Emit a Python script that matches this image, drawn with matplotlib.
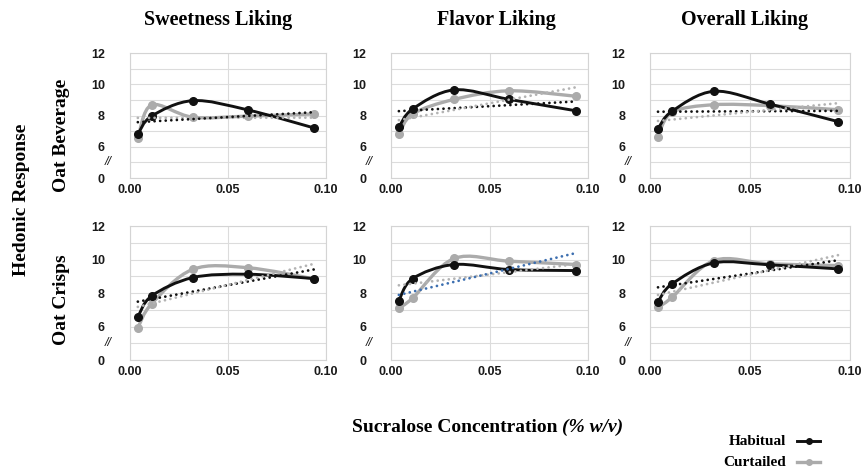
import numpy as np
import matplotlib
matplotlib.use("Agg")
import matplotlib.pyplot as plt
from matplotlib.path import Path
from matplotlib.patches import PathPatch
from matplotlib.lines import Line2D
import matplotlib.transforms as mtransforms

# Sucralose concentrations (% w/v)
conc = [0.004, 0.011, 0.032, 0.060, 0.094]

products = ["Oat Beverage", "Oat Crisps"]
attributes = ["Sweetness Liking", "Flavor Liking", "Overall Liking"]

# Mean hedonic ratings, habitual consumers
hab_bev_sweet = [6.80, 7.96, 8.95, 8.36, 7.20]
hab_bev_flavor = [7.25, 8.42, 9.64, 9.03, 8.30]
hab_bev_overall = [7.16, 8.27, 9.55, 8.73, 7.61]
hab_cri_sweet = [6.57, 7.82, 8.92, 9.12, 8.86]
hab_cri_flavor = [7.54, 8.86, 9.70, 9.40, 9.34]
hab_cri_overall = [7.48, 8.54, 9.80, 9.68, 9.44]

# Mean hedonic ratings, curtailed consumers
cur_bev_sweet = [6.53, 8.67, 7.89, 7.96, 8.10]
cur_bev_flavor = [6.81, 8.10, 9.03, 9.58, 9.23]
cur_bev_overall = [6.65, 8.20, 8.69, 8.63, 8.37]
cur_cri_sweet = [5.92, 7.35, 9.41, 9.51, 8.84]
cur_cri_flavor = [7.10, 7.70, 10.06, 9.90, 9.70]
cur_cri_overall = [7.14, 7.74, 9.94, 9.74, 9.64]

habitual = [[hab_bev_sweet, hab_bev_flavor, hab_bev_overall],
            [hab_cri_sweet, hab_cri_flavor, hab_cri_overall]]
curtailed = [[cur_bev_sweet, cur_bev_flavor, cur_bev_overall],
             [cur_cri_sweet, cur_cri_flavor, cur_cri_overall]]

BLACK = "#111111"
GREY = "#ababab"
GREY_DOT = "#b3b3b3"
BLUE_DOT = "#3d6fb0"

# colours of the linear trendlines (habitual, curtailed) per panel
trend_hab_colors = [[GREY_DOT, BLACK, BLACK], [BLACK, GREY_DOT, BLACK]]
trend_cur_colors = [[BLACK, GREY_DOT, GREY_DOT], [GREY_DOT, BLUE_DOT, GREY_DOT]]

SERIF = "Liberation Serif"
SANS = "Liberation Sans"

W, H = 863, 469
fig = plt.figure(figsize=(W / 100, H / 100), dpi=100)

col_lr = [(130, 326), (391, 588), (650, 850)]
row_tb = [(53, 178), (226, 360)]


def smooth_path(x, y):
    """Cubic Bezier through the points (Catmull-Rom style tangents)."""
    pts = np.column_stack([x, y]).astype(float)
    n = len(pts)
    verts = [pts[0]]
    codes = [Path.MOVETO]
    for i in range(n - 1):
        p0 = pts[i - 1] if i > 0 else pts[i]
        p1 = pts[i]
        p2 = pts[i + 1]
        p3 = pts[i + 2] if i + 2 < n else pts[i + 1]
        c1 = p1 + (p2 - p0) / 6.0
        c2 = p2 - (p3 - p1) / 6.0
        verts += [c1, c2, p2]
        codes += [Path.CURVE4] * 3
    return Path(verts, codes)


def trend(ax, x, y, color):
    slope, icpt = np.polyfit(x, y, 1)
    xs = np.array([x[0], x[-1]])
    ax.plot(xs, slope * xs + icpt, color=color, lw=2.0,
            linestyle=(0, (0.01, 2.0)), dash_capstyle="round", zorder=6)


for r in range(2):
    for c in range(3):
        l, rr = col_lr[c]
        t, b = row_tb[r]
        ax = fig.add_axes([l / W, 1 - b / H, (rr - l) / W, (b - t) / H])
        x = np.array(conc)
        yh = np.array(habitual[r][c])
        yc = np.array(curtailed[r][c])

        ax.set_xlim(0, 0.10)
        ax.set_ylim(4, 12)
        ax.set_yticks([4, 6, 8, 10, 12])
        ax.set_yticklabels(["0", "6", "8", "10", "12"])
        ax.set_yticks(np.arange(5, 12), minor=True)
        ax.set_xticks([0.0, 0.05, 0.10])
        ax.set_xticklabels(["0.00", "0.05", "0.10"])
        ax.tick_params(which="both", length=0)
        ax.tick_params(axis="y", pad=18)
        ax.tick_params(axis="x", pad=4)
        for lab in ax.get_xticklabels() + ax.get_yticklabels():
            lab.set_fontfamily(SANS)
            lab.set_fontweight("bold")
            lab.set_fontsize(9)
            lab.set_color("#1a1a1a")
        ax.grid(True, which="both", axis="y", color="#dcdcdc", lw=0.8)
        ax.grid(True, which="major", axis="x", color="#dcdcdc", lw=0.8)
        for s in ax.spines.values():
            s.set_color("#d4d4d4")
            s.set_linewidth(0.8)
        ax.set_axisbelow(True)

        # axis break marker
        tr = mtransforms.blended_transform_factory(ax.transAxes, ax.transData)
        ax.text(-18 / (rr - l), 5, "//", transform=tr, ha="right", va="center",
                fontsize=9, fontstyle="italic", family=SANS, color="#1a1a1a")

        # curtailed series
        ax.add_patch(PathPatch(smooth_path(x, yc), fill=False, edgecolor=GREY,
                               lw=2.4, zorder=3, capstyle="round"))
        ax.plot(x, yc, "o", color=GREY, ms=5.5, zorder=3)
        # habitual series
        ax.add_patch(PathPatch(smooth_path(x, yh), fill=False, edgecolor=BLACK,
                               lw=2.1, zorder=4, capstyle="round"))
        ax.plot(x, yh, "o", color=BLACK, ms=5.5, zorder=4)

        trend(ax, x, yh, trend_hab_colors[r][c])
        trend(ax, x, yc, trend_cur_colors[r][c])

# column titles
title_x = [218, 496, 745]
for c, name in enumerate(attributes):
    fig.text(title_x[c] / W, 1 - 20 / H, name, ha="center", va="center",
             family=SERIF, fontweight="bold", fontsize=14.5)

# row labels
fig.text(22 / W, 1 - 200 / H, "Hedonic Response", rotation=90, ha="center",
         va="center", family=SERIF, fontweight="bold", fontsize=14)
for r, name in enumerate(products):
    yc = [135, 300][r]
    fig.text(62 / W, 1 - yc / H, name, rotation=90, ha="center", va="center",
             family=SERIF, fontweight="bold", fontsize=14)

# x axis title: upright words followed by an italic unit
renderer = fig.canvas.get_renderer()
xt1 = fig.text(352 / W, 1 - 427 / H, "Sucralose Concentration ", ha="left",
               va="center", family=SERIF, fontweight="bold", fontsize=14)
bb = xt1.get_window_extent(renderer)
fig.text(bb.x1 / W, 1 - 427 / H, "(% w/v)", ha="left", va="center",
         family=SERIF, fontweight="bold", fontstyle="italic", fontsize=14)

# legend
legend_items = [("Habitual", BLACK, 2.1), ("Curtailed", GREY, 2.4)]
for i, (name, col, lw) in enumerate(legend_items):
    yy = 1 - (441 + 21 * i) / H
    fig.text(786 / W, yy, name, ha="right", va="center", family=SERIF,
             fontweight="bold", fontsize=11)
    fig.add_artist(Line2D([797 / W, 820 / W], [yy, yy], color=col, lw=lw))
    fig.add_artist(Line2D([808.5 / W], [yy], color=col, marker="o", ms=4))

fig.savefig("out.png", dpi=100)
